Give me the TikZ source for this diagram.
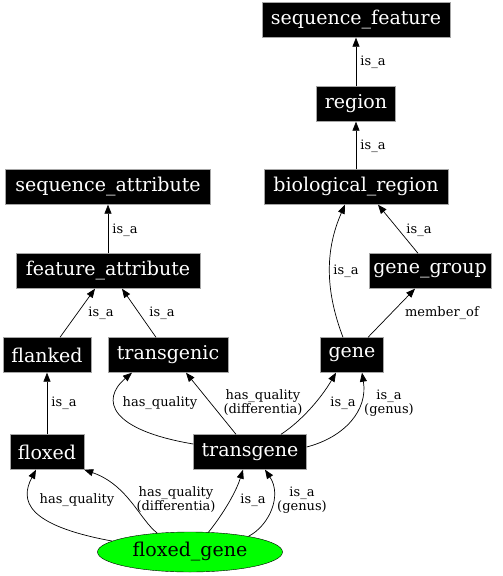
\documentclass[tikz,border=0pt]{standalone}
\usepackage{fontspec}
\setmainfont{DejaVu Serif}
\usetikzlibrary{arrows.meta,shapes.geometric}

\begin{document}
\begin{tikzpicture}[x=1pt,y=-1pt,
  cls/.style={fill=black,draw=gray!70,text=white,inner sep=0pt,
    minimum height=35pt,font=\fontsize{19}{21}\selectfont},
  lbl/.style={inner sep=0pt,align=center,font=\fontsize{13}{14}\selectfont},
  rel/.style={-{Triangle[length=9pt,width=7pt]},line width=0.7pt}]
\useasboundingbox (0,0) rectangle (503,576);
% The classes
\node[cls,minimum width=188pt] (sf) at (356,20) {sequence\_feature};
\node[cls,minimum width=79pt] (reg) at (356,104) {region};
\node[cls,minimum width=184pt] (bio) at (356,187) {biological\_region};
\node[cls,minimum width=205pt] (sa) at (108,187) {sequence\_attribute};
\node[cls,minimum width=184pt] (fa) at (108,271) {feature\_attribute};
\node[cls,minimum width=122pt] (gg) at (430,271) {gene\_group};
\node[cls,minimum width=88pt] (fl) at (47,355) {flanked};
\node[cls,minimum width=120pt] (tgc) at (168,355) {transgenic};
\node[cls,minimum width=63pt] (gene) at (352,355) {gene};
\node[cls,minimum width=74pt] (fx) at (47,452) {floxed};
\node[cls,minimum width=113pt] (tg) at (250,452) {transgene};
\node[ellipse,fill=green,draw=black,inner sep=0pt,minimum width=185pt,
  minimum height=40pt,font=\fontsize{19}{21}\selectfont] (fg) at (190,552) {floxed\_gene};

% The upper edges
\draw[rel] (reg) -- (sf);
\draw[rel] (bio) -- (reg);
\draw[rel] (fa) -- (sa);
\draw[rel] ([xshift=-12pt]gg.north) -- ([xshift=22pt]bio.south);
\draw[rel] ([xshift=-9pt]gene.north) .. controls (325,290) and (325,250) .. ([xshift=-11pt]bio.south);
\draw[rel] ([xshift=16pt]gene.north) -- ([xshift=-15pt]gg.south);
\draw[rel] ([xshift=13pt]fl.north) -- ([xshift=-13pt]fa.south);
\draw[rel] ([xshift=-12pt]tgc.north) -- ([xshift=14pt]fa.south);
\draw[rel] (fx) -- (fl);

% Edges out of transgene
\draw[rel] ([yshift=8pt]tg.west) .. controls (110,430) and (100,400) .. ([xshift=-36pt]tgc.south);
\draw[rel] ([xshift=-14pt]tg.north) -- ([xshift=18pt]tgc.south);
\draw[rel] ([xshift=31pt]tg.north) .. controls (300,422) and (320,400) .. ([xshift=-16pt]gene.south);
\draw[rel] ([yshift=5pt]tg.east) .. controls (345,437) and (368,410) .. ([xshift=10pt]gene.south);

% Edges out of floxed_gene
\draw[rel] (fg.172) .. controls (25,525) and (20,500) .. ([xshift=-11pt]fx.south);
\draw[rel] (fg.150) .. controls (140,520) and (128,485) .. (fx.south east);
\draw[rel] (fg.47) .. controls (220,518) and (235,495) .. ([xshift=-7pt]tg.south);
\draw[rel] (fg.15) .. controls (270,525) and (282,495) .. ([xshift=15pt]tg.south);

% Edge labels
\foreach \n/\x/\y/\t in {1/373/62/{is\_a}, 2/373/146/{is\_a}, 3/125/230/{is\_a},
  4/419/230/{is\_a}, 5/346/271/{is\_a}, 6/442/313/{member\_of},
  7/101/313/{is\_a}, 8/162/313/{is\_a}, 9/64/403/{is\_a},
  10/160/403/{has\_quality}, 11/263/403/{has\_quality\\(differentia)},
  12/343/403/{is\_a}, 13/389/403/{is\_a\\(genus)},
  14/77/500/{has\_quality}, 15/176/500/{has\_quality\\(differentia)},
  16/253/500/{is\_a}, 17/302/500/{is\_a\\(genus)}}
  \node[lbl] (l\n) at (\x,\y) {\t};
\end{tikzpicture}
\end{document}
